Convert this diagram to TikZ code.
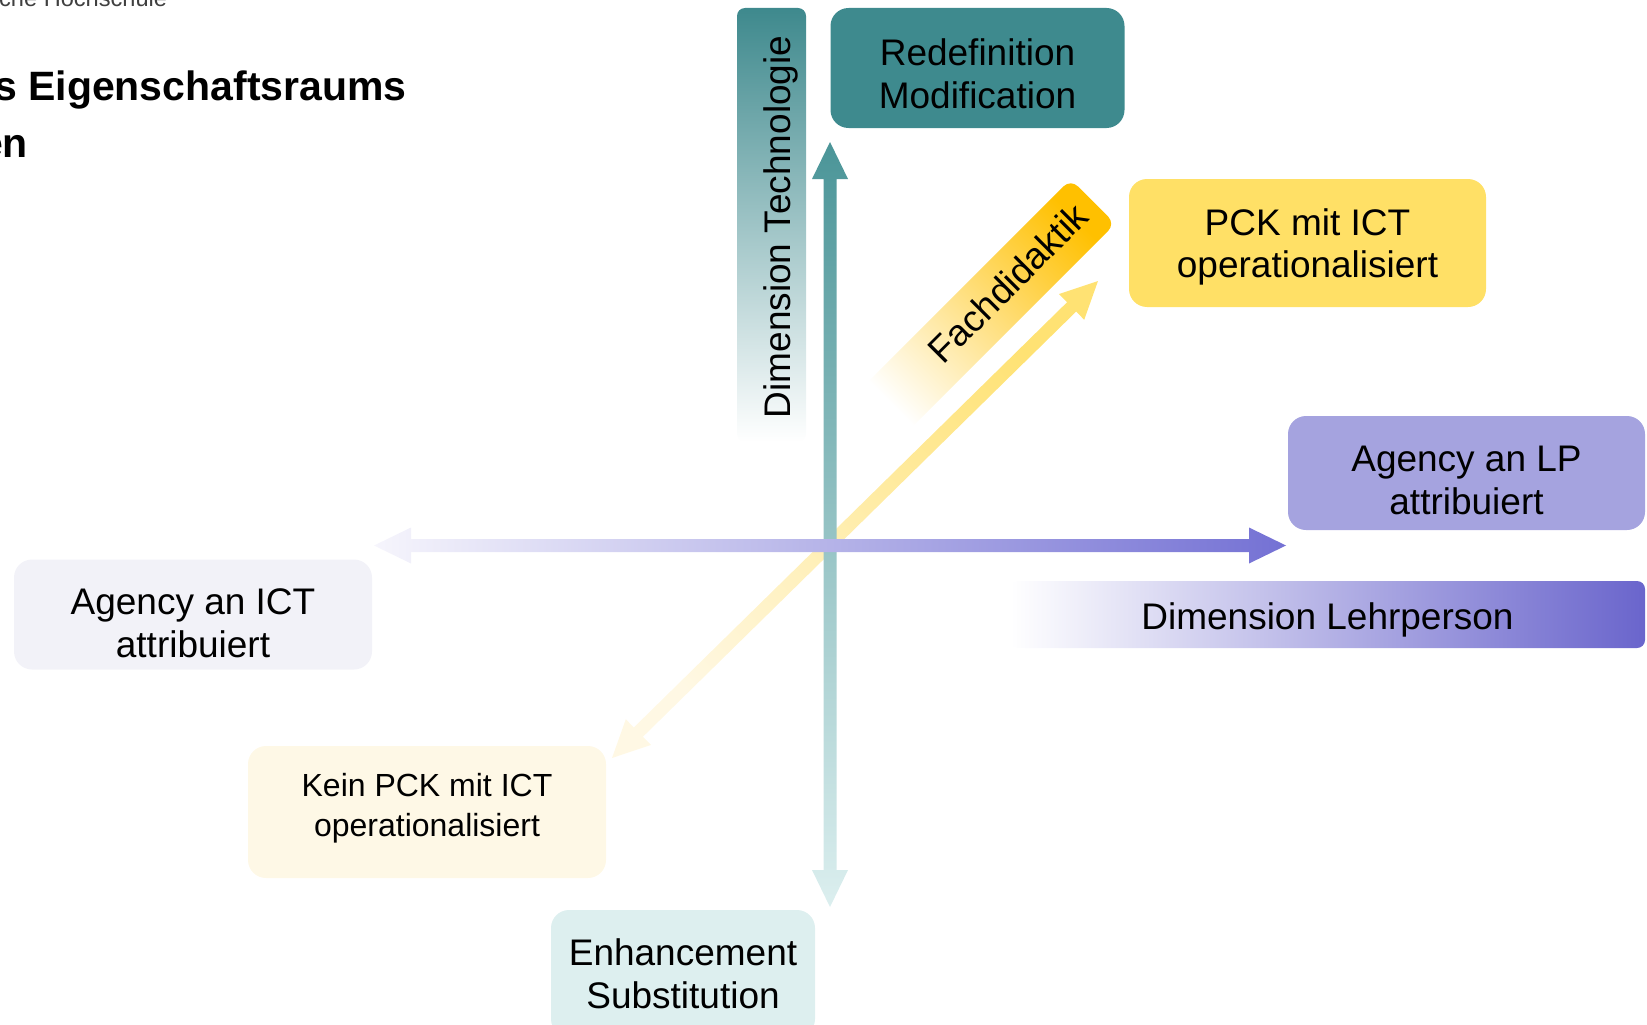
\documentclass[tikz,border=0pt]{standalone}
\usepackage{fontspec}
\setmainfont{Liberation Sans}
\usetikzlibrary{calc}
\definecolor{redefteal}{HTML}{3E8A8E}
\definecolor{techteal}{HTML}{3E898D}
\definecolor{vertA}{HTML}{4B9598}
\definecolor{vertB}{HTML}{DCEFEF}
\definecolor{enhteal}{HTML}{DDEFEF}
\definecolor{pckyellow}{HTML}{FFE066}
\definecolor{fachorange}{HTML}{FFC000}
\definecolor{diagA}{HTML}{FFE273}
\definecolor{diagB}{HTML}{FFF8E4}
\definecolor{keinyellow}{HTML}{FEF8E6}
\definecolor{lpviolet}{HTML}{A5A3DF}
\definecolor{horA}{HTML}{7471D4}
\definecolor{horB}{HTML}{F6F5FC}
\definecolor{lehrviolet}{HTML}{6A65CC}
\definecolor{ictgrey}{HTML}{F2F2F8}
\tikzset{every text node part/.style={align=center}}
\tikzstyle{box} = [rounded corners=18pt, inner sep=0pt, align=center, text depth=0pt, font=\fontsize{37}{42.5}\selectfont]
\tikzstyle{bar} = [rounded corners=8pt, inner sep=0pt, font=\fontsize{37}{42.5}\selectfont]
\tikzstyle{head} = [anchor=base west, inner sep=0pt, font=\bfseries\fontsize{41}{49}\selectfont]

\begin{document}
\begin{tikzpicture}[x=1pt, y=-1pt]
  \useasboundingbox (0,0) rectangle (1647,1025);
  % what is left of the slide title
  \node[anchor=base west, inner sep=0pt, text=black!75, font=\fontsize{23.6}{28}\selectfont] (school) at (-1,7) {che Hochschule};
  \node[head] (title) at (-6,100) {s Eigenschaftsraums};
  \node[head] (title2) at (-20,157) {en};

  % dimension bars
  \node[bar, minimum width=69pt, minimum height=434pt, top color=techteal, bottom color=white] (techbar) at (771.5,225) {};
  \node[rotate=90, inner sep=0pt, font=\fontsize{37}{42.5}\selectfont] (techtxt) at (781,227) {Dimension Technologie};
  \node[bar, minimum width=635pt, minimum height=67pt, text height=29.4pt, text depth=0pt, left color=white, right color=lehrviolet] (lehrbar) at (1327.5,614.5) {Dimension Lehrperson};
  \shade[rounded corners=10pt, top color=fachorange, bottom color=white, shading angle=-45] (1070.7,179.2) -- (1115.3,223.8) -- (896.1,443.0) -- (851.5,398.4) -- cycle;
  \node[rotate=45, inner sep=0pt, font=\fontsize{37}{42.5}\selectfont] (fach) at (1008,283) {Fachdidaktik};

  % axes
  \coordinate (dtop) at (1098,281);
  \coordinate (dbot) at (612,758);
  \coordinate (vtop) at (830,142);
  \coordinate (vbot) at (830,907);
  \coordinate (hright) at (1286,545.5);
  \coordinate (hleft) at (374,545.5);
  \foreach \p/\q/\cp/\cq/\ang in {dtop/dbot/diagA/diagB/-45, vtop/vbot/vertA/vertB/0, hright/hleft/horA/horB/-90}{
    \coordinate (hp) at ($(\p)!37pt!(\q)$);
    \coordinate (hq) at ($(\q)!37pt!(\p)$);
    \shade[top color=\cp, bottom color=\cq, shading angle=\ang] (\p) -- ($(hp)!18pt!90:(\q)$) -- ($(hp)!6.5pt!90:(\q)$)
      -- ($(hq)!6.5pt!-90:(\p)$) -- ($(hq)!18pt!-90:(\p)$) -- (\q) -- ($(hq)!18pt!90:(\p)$) -- ($(hq)!6.5pt!90:(\p)$)
      -- ($(hp)!6.5pt!-90:(\q)$) -- ($(hp)!18pt!-90:(\q)$) -- cycle;
  }

  % poles
  \node[box, fill=redefteal, minimum width=294pt, minimum height=120pt, text height=80pt] (redef) at (977.5,68) {Redefinition\\Modification};
  \node[box, fill=pckyellow, minimum width=357pt, minimum height=128pt, text height=69.4pt] (pck) at (1307.5,243) {PCK mit ICT\\operationalisiert};
  \node[box, fill=lpviolet, minimum width=357pt, minimum height=114pt, text height=82pt] (agencylp) at (1466.5,473) {Agency an LP\\attribuiert};
  \node[box, fill=ictgrey, minimum width=358pt, minimum height=110pt, text height=85pt] (agencyict) at (193,614.5) {Agency an ICT\\attribuiert};
  \node[box, fill=keinyellow, minimum width=358pt, minimum height=132pt, text height=49.4pt, font=\fontsize{32}{40}\selectfont] (keinpck) at (427,812) {Kein PCK mit ICT\\operationalisiert};
  \node[box, fill=enhteal, minimum width=264pt, minimum height=127pt] (enh) at (683,973.5) {Enhancement\\Substitution};
\end{tikzpicture}
\end{document}
